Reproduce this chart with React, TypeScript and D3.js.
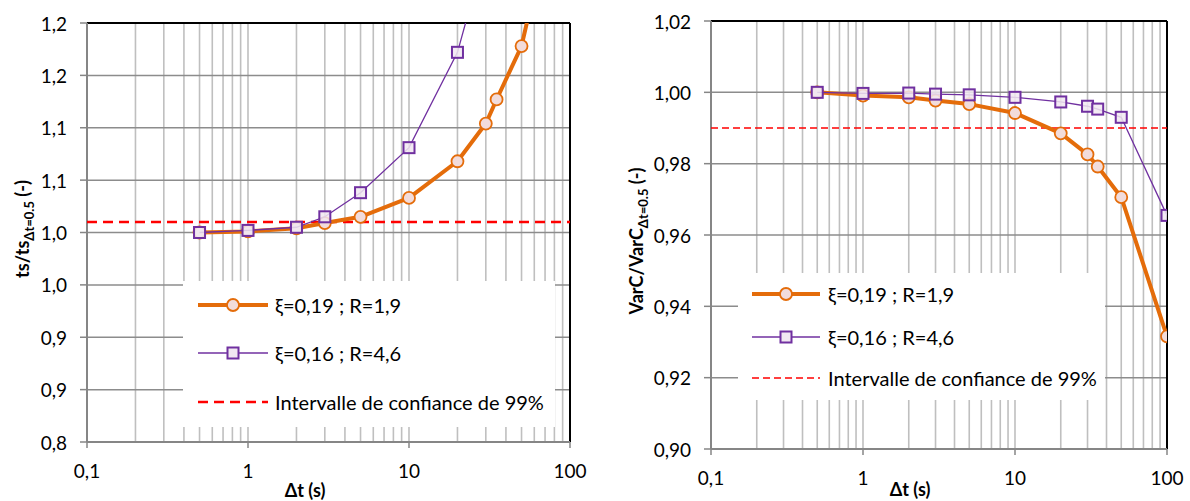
import React from 'react';
import * as d3 from 'd3';

// ---------- DATA ----------
const dtValues = [0.5, 1, 2, 3, 5, 10, 20, 30, 35, 50, 100];
const leftOrange = [1.0, 1.001, 1.004, 1.009, 1.015, 1.033, 1.068, 1.104, 1.127, 1.178, 1.38];
const leftPurpleDt = [0.5, 1, 2, 3, 5, 10, 20, 30];
const leftPurple = [1.0, 1.002, 1.005, 1.015, 1.038, 1.081, 1.172, 1.27];
const rightOrange = [1.0, 0.9991, 0.9986, 0.9977, 0.9967, 0.9942, 0.9885, 0.9826, 0.9792, 0.9706, 0.9316];
const rightPurple = [1.0, 0.9997, 0.9998, 0.9995, 0.9993, 0.9986, 0.9973, 0.9961, 0.9953, 0.993, 0.9655];
const leftConfidence = 1.01;
const rightConfidence = 0.99;

const xTickValues = [0.1, 1, 10, 100];
const xTickLabels = ['0,1', '1', '10', '100'];
const leftYTicks = [0.8, 0.85, 0.9, 0.95, 1.0, 1.05, 1.1, 1.15, 1.2];
const leftYLabels = ['0,8', '0,9', '0,9', '1,0', '1,0', '1,1', '1,1', '1,2', '1,2'];
const rightYTicks = [0.9, 0.92, 0.94, 0.96, 0.98, 1.0, 1.02];
const rightYLabels = ['0,90', '0,92', '0,94', '0,96', '0,98', '1,00', '1,02'];

const seriesNames = ['ξ=0,19 ; R=1,9', 'ξ=0,16 ; R=4,6', 'Intervalle de confiance de 99%'];

// ---------- STYLE ----------
const ORANGE = '#e46c0a';
const ORANGE_FILL = '#f2dcdb';
const PURPLE = '#7030a0';
const PURPLE_FILL = '#f1e8f1';
const RED = '#ff0000';
const FONT = 'Lato, "Open Sans", sans-serif';
const FS = 19;
const FS_LEGEND = 20;

type ChartProps = {
  id: string;
  left: number; right: number; top: number; bottom: number;
  yDomain: [number, number];
  yTicks: number[]; yLabels: string[];
  orangeX: number[]; orangeY: number[];
  purpleX: number[]; purpleY: number[];
  confidence: number;
  dash: string; dashWidth: number;
  yTitleMain: string; yTitleX: number; yTitleY: number;
  xTitleX: number; xTitleY: number; xLabelY: number;
  legend: { x0: number; x1: number; y0: number; y1: number; rows: number[]; sx0: number; sx1: number; tx: number };
};

function Chart(p: ChartProps) {
  const x = d3.scaleLog().domain([0.1, 100]).range([p.left, p.right]);
  const y = d3.scaleLinear().domain(p.yDomain).range([p.bottom, p.top]);
  const minor: number[] = [];
  [0.1, 1, 10].forEach((d) => {
    for (let k = 1; k <= 9; k++) {
      const v = d * k;
      if (v > 0.1 + 1e-9) minor.push(v);
    }
  });
  const line = d3.line<[number, number]>().x((d) => x(d[0])).y((d) => y(d[1]));
  const oPts: [number, number][] = p.orangeX.map((d, i) => [d, p.orangeY[i]]);
  const pPts: [number, number][] = p.purpleX.map((d, i) => [d, p.purpleY[i]]);
  const lg = p.legend;
  const sq = 11;
  return (
    <g>
      <defs>
        <clipPath id={p.id + '-clip'}>
          <rect x={p.left} y={p.top} width={p.right - p.left} height={p.bottom - p.top} />
        </clipPath>
      </defs>
      {minor.map((v, i) => (
        <line key={'v' + i} x1={x(v)} x2={x(v)} y1={p.top} y2={p.bottom} stroke="#bfbfbf" strokeWidth={1.6} />
      ))}
      {p.yTicks.map((v, i) => (
        <line key={'h' + i} x1={p.left} x2={p.right} y1={y(v)} y2={y(v)} stroke="#8c8c8c" strokeWidth={1.5} />
      ))}
      <line x1={p.left} x2={p.right} y1={p.top} y2={p.top} stroke="#000" strokeWidth={2} />
      <line x1={p.right} x2={p.right} y1={p.top} y2={p.bottom} stroke="#000" strokeWidth={2} />
      <line x1={p.left} x2={p.left} y1={p.top} y2={p.bottom} stroke="#868686" strokeWidth={2} />
      <line x1={p.left} x2={p.right} y1={p.bottom} y2={p.bottom} stroke="#868686" strokeWidth={2} />
      {p.yTicks.map((v, i) => (
        <g key={'yt' + i}>
          <line x1={p.left - 7} x2={p.left} y1={y(v)} y2={y(v)} stroke="#868686" strokeWidth={1.5} />
          <text x={p.left - 20} y={y(v)} textAnchor="end" dominantBaseline="central" fontSize={FS} fontFamily={FONT} fill="#000">{p.yLabels[i]}</text>
        </g>
      ))}
      {xTickValues.map((v, i) => (
        <g key={'xt' + i}>
          <line x1={x(v)} x2={x(v)} y1={p.bottom} y2={p.bottom + 6} stroke="#868686" strokeWidth={1.5} />
          <text x={x(v)} y={p.xLabelY} textAnchor="middle" dominantBaseline="central" fontSize={FS} fontFamily={FONT} fill="#000">{xTickLabels[i]}</text>
        </g>
      ))}
      <line x1={p.left} x2={p.right} y1={y(p.confidence)} y2={y(p.confidence)} stroke={RED} strokeWidth={p.dashWidth} strokeDasharray={p.dash} />
      <g clipPath={`url(#${p.id}-clip)`}>
        <path d={line(oPts) || ''} fill="none" stroke={ORANGE} strokeWidth={4} strokeLinejoin="round" />
        {oPts.map((d, i) => (
          <circle key={'oc' + i} cx={x(d[0])} cy={y(d[1])} r={6} fill={ORANGE_FILL} stroke={ORANGE} strokeWidth={1.8} />
        ))}
        <path d={line(pPts) || ''} fill="none" stroke={PURPLE} strokeWidth={1.3} />
        {pPts.map((d, i) => (
          <rect key={'ps' + i} x={x(d[0]) - sq / 2} y={y(d[1]) - sq / 2} width={sq} height={sq} fill={PURPLE_FILL} fillOpacity={0.85} stroke={PURPLE} strokeWidth={2} />
        ))}
      </g>
      <rect x={lg.x0} y={lg.y0} width={lg.x1 - lg.x0} height={lg.y1 - lg.y0} fill="#fff" />
      <line x1={lg.sx0} x2={lg.sx1} y1={lg.rows[0]} y2={lg.rows[0]} stroke={ORANGE} strokeWidth={4} />
      <circle cx={(lg.sx0 + lg.sx1) / 2} cy={lg.rows[0]} r={6} fill={ORANGE_FILL} stroke={ORANGE} strokeWidth={1.8} />
      <line x1={lg.sx0} x2={lg.sx1} y1={lg.rows[1]} y2={lg.rows[1]} stroke={PURPLE} strokeWidth={1.3} />
      <rect x={(lg.sx0 + lg.sx1) / 2 - sq / 2} y={lg.rows[1] - sq / 2} width={sq} height={sq} fill={PURPLE_FILL} stroke={PURPLE} strokeWidth={2} />
      <line x1={lg.sx0} x2={lg.sx1} y1={lg.rows[2]} y2={lg.rows[2]} stroke={RED} strokeWidth={p.dashWidth} strokeDasharray={p.dash} />
      {seriesNames.map((s, i) => (
        <text key={'lt' + i} x={lg.tx} y={lg.rows[i]} dominantBaseline="central" fontSize={FS_LEGEND} fontFamily={FONT} fill="#000">{s}</text>
      ))}
      <text x={p.xTitleX} y={p.xTitleY} textAnchor="middle" dominantBaseline="central" fontSize={18} fontWeight="bold" fontFamily={FONT} fill="#000">Δt (s)</text>
      <text transform={`translate(${p.yTitleX},${p.yTitleY}) rotate(-90)`} textAnchor="middle" fontSize={18} fontWeight="bold" fontFamily={FONT} fill="#000">
        <tspan>{p.yTitleMain}</tspan>
        <tspan fontSize={13} dy={5}>Δt=0.5</tspan>
        <tspan dy={-5}>{' (-)'}</tspan>
      </text>
    </g>
  );
}

export default function App() {
  return (
    <svg width={1190} height={501} style={{ position: 'absolute', left: 0, top: 0, background: '#fff' }}>
      <rect x={0} y={0} width={1190} height={501} fill="#fff" />
      <Chart
        id="left"
        left={87} right={570} top={23} bottom={442}
        yDomain={[0.8, 1.2]} yTicks={leftYTicks} yLabels={leftYLabels}
        orangeX={dtValues} orangeY={leftOrange}
        purpleX={leftPurpleDt} purpleY={leftPurple}
        confidence={leftConfidence} dash="10,6" dashWidth={2.6}
        yTitleMain="ts/ts" yTitleX={29} yTitleY={229}
        xTitleX={305} xTitleY={490} xLabelY={470}
        legend={{ x0: 183, x1: 555, y0: 281, y1: 427, rows: [305, 353, 402], sx0: 198, sx1: 268, tx: 275 }}
      />
      <Chart
        id="right"
        left={711} right={1167} top={21} bottom={449}
        yDomain={[0.9, 1.02]} yTicks={rightYTicks} yLabels={rightYLabels}
        orangeX={dtValues} orangeY={rightOrange}
        purpleX={dtValues} purpleY={rightPurple}
        confidence={rightConfidence} dash="7,4" dashWidth={1.6}
        yTitleMain="VarC/VarC" yTitleX={643} yTitleY={241}
        xTitleX={910} xTitleY={489} xLabelY={477}
        legend={{ x0: 738, x1: 1105, y0: 273, y1: 400, rows: [294, 337, 378], sx0: 752, sx1: 820, tx: 828 }}
      />
    </svg>
  );
}
